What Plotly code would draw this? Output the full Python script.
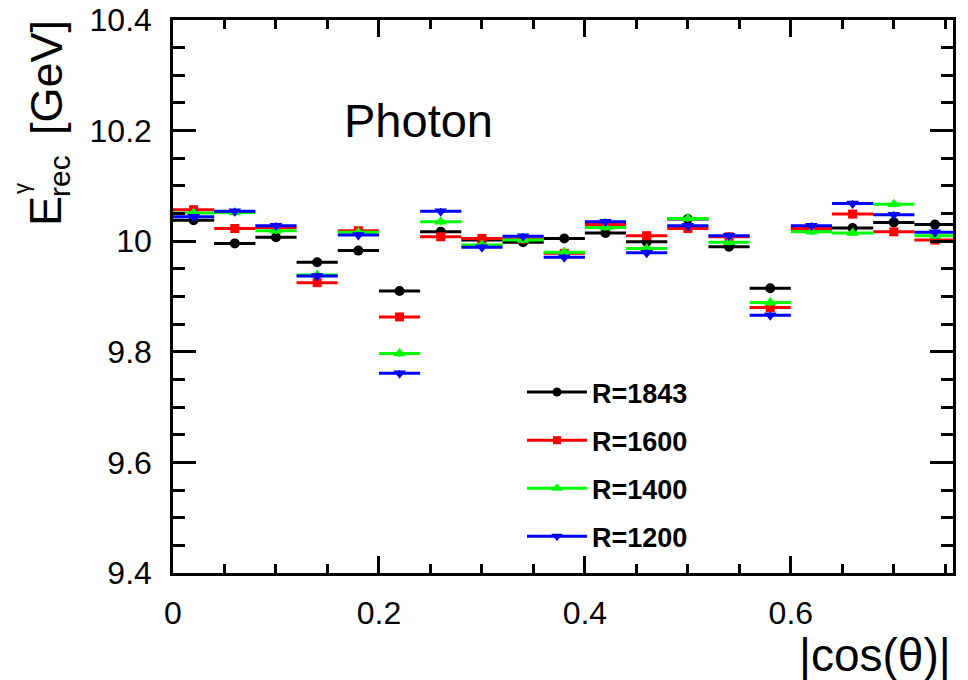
import plotly.graph_objects as go

# ---- data ----
bin_centers = [0.02, 0.06, 0.10, 0.14, 0.18, 0.22, 0.26, 0.30, 0.34, 0.38,
               0.42, 0.46, 0.50, 0.54, 0.58, 0.62, 0.66, 0.70, 0.74]
bin_half_width = 0.02

r1843 = [10.038, 9.996, 10.007, 9.962, 9.983, 9.910, 10.017, 10.002, 9.998, 10.005,
         10.015, 9.999, 10.040, 9.990, 9.915, 10.022, 10.024, 10.034, 10.030]
r1600 = [10.057, 10.023, 10.025, 9.925, 10.019, 9.863, 10.008, 10.005, 10.004, 9.978,
         10.030, 10.010, 10.023, 10.008, 9.880, 10.023, 10.049, 10.017, 10.002]
r1400 = [10.051, 10.052, 10.019, 9.939, 10.016, 9.797, 10.035, 9.993, 10.002, 9.980,
         10.025, 9.987, 10.041, 9.998, 9.889, 10.017, 10.015, 10.067, 10.010]
r1200 = [10.044, 10.054, 10.028, 9.937, 10.011, 9.761, 10.054, 9.989, 10.009, 9.971,
         10.035, 9.979, 10.028, 10.010, 9.866, 10.028, 10.068, 10.048, 10.016]
y_err = 0.006

series = [
    ("R=1843", r1843, "#000000", "circle", 10),
    ("R=1600", r1600, "#ff0000", "square", 9),
    ("R=1400", r1400, "#00ff00", "triangle-up", 11),
    ("R=1200", r1200, "#0000ff", "triangle-down", 11),
]

FONT = "Liberation Sans, Arial, Helvetica, sans-serif"

# The page body has an 8px margin, so the figure is drawn 8px in from the
# top-left corner of the window; window pixel = figure pixel + 8.
OFF = 8
W, H = 968 - OFF, 680 - OFF
L, T = 173 - OFF, 20 - OFF
R = W - (953 - OFF)
B = H - (573 - OFF)
PW, PH = W - L - R, H - T - B


def px(x):  # window pixel -> paper x
    return (x - OFF - L) / PW


def py(y):  # window pixel -> paper y
    return (H - B - (y - OFF)) / PH


fig = go.Figure()

for name, vals, col, sym, size in series:
    fig.add_trace(go.Scatter(
        x=bin_centers, y=vals, mode="markers", showlegend=False,
        marker=dict(color=col, symbol=sym, size=size, line=dict(width=0)),
        error_x=dict(type="constant", value=bin_half_width, color=col,
                     thickness=3, width=0),
        error_y=dict(type="constant", value=y_err, color=col,
                     thickness=1.5, width=0),
    ))
    # legend entry
    fig.add_trace(go.Scatter(
        x=[None], y=[None], mode="lines+markers", name=name,
        legendgroup=name,
        line=dict(color=col, width=3),
        marker=dict(color=col, symbol=sym, size=size - 1),
    ))

axis_common = dict(
    showline=True, linecolor="black", linewidth=2.5, mirror="ticks",
    ticks="inside", tickcolor="black", tickwidth=2.5,
    showgrid=False, zeroline=False, automargin=False,
    ticklabeloverflow="allow",
    tickfont=dict(family=FONT, size=32, color="black"),
)

fig.update_xaxes(
    range=[0, 0.7575], tickvals=[0, 0.2, 0.4, 0.6],
    ticktext=["0", "0.2", "0.4", "0.6"],
    ticklen=17, ticklabelstandoff=10,
    minor=dict(dtick=0.05, ticklen=9, ticks="inside", tickcolor="black",
               tickwidth=2.5),
    **axis_common,
)
fig.update_yaxes(
    range=[9.4, 10.4], tickvals=[9.4, 9.6, 9.8, 10.0, 10.2, 10.4],
    ticktext=["9.4", "9.6", "9.8", "10", "10.2", "10.4"],
    ticklen=23, ticklabelstandoff=12,
    minor=dict(dtick=0.05, ticklen=12, ticks="inside", tickcolor="black",
               tickwidth=2.5),
    **axis_common,
)

annotations = [
    dict(text="Photon", x=px(418), y=py(121), font=dict(size=47)),
    dict(text="|cos(θ)|", x=1.0, xanchor="right", y=py(655), font=dict(size=46)),
    dict(text="E", x=px(45), y=py(211), font=dict(size=45), textangle=-90),
    dict(text="γ", x=px(21), y=py(189), font=dict(size=22), textangle=-90),
    dict(text="rec", x=px(59), y=py(176), font=dict(size=30), textangle=-90),
    dict(text="[GeV]", x=px(47), y=py(78), font=dict(size=45), textangle=-90),
]
for a in annotations:
    a.setdefault("xanchor", "center")
    a.setdefault("yanchor", "middle")
    a["font"].update(family=FONT, color="black")
    fig.add_annotation(xref="paper", yref="paper", showarrow=False, **a)

fig.update_layout(
    width=W, height=H,
    margin=dict(l=L, r=R, t=T, b=B, autoexpand=False),
    paper_bgcolor="white", plot_bgcolor="white",
    legend=dict(
        x=px(522), y=py(368), xanchor="left", yanchor="top",
        bgcolor="rgba(0,0,0,0)", borderwidth=0,
        font=dict(family=FONT, size=27, color="black", weight="bold"),
        traceorder="grouped", tracegroupgap=10, itemwidth=60,
    ),
)

fig.write_html("out.html")
